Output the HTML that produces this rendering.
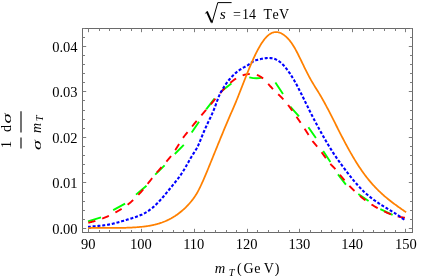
<!DOCTYPE html>
<html><head><meta charset="utf-8"><style>
html,body{margin:0;padding:0;background:#fff;}
body{width:436px;height:276px;overflow:hidden;}
svg{display:block;font-family:"Liberation Serif",serif;will-change:transform;}
</style></head><body>
<svg width="436" height="276" viewBox="0 0 436 276">
<rect width="436" height="276" fill="#fff"/>
<g fill="none" stroke-linejoin="round" stroke-width="1.75">
<path id="green" d="M88,221.4 L101,217.4 M113.2,210.1 L125.1,203.6 M136,194.6 L146.5,185.7 M155.2,174.7 L164.6,165.3 M174.8,154 L183.8,144.8 M191.7,132.5 L199,121.7 M206.2,109.3 L214.5,98.6 M221.7,91.1 L231.4,83.6 M249.3,77.3 Q257.20,79.25 262.3,77.4 M275.4,82.5 L283,94.1 M290.3,106.6 L299,116.4 M308.4,127.2 L315.9,138 M323.2,151 L330.4,161.9 M338,174.4 L345.9,184.6 M358.3,194 L368.6,201 M380.3,209.1 L392.6,214.9" stroke="#0f0" stroke-width="1.9"/>
<path id="red" d="M88.10,222.74 L88.74,222.61 L89.37,222.47 L90.01,222.33 L90.65,222.18 L91.28,222.02 L91.92,221.87 L92.56,221.70 L93.19,221.53 L93.83,221.36 L94.46,221.18 L95.10,221.00 L95.74,220.81 L96.37,220.61 L97.01,220.42 L97.65,220.21 L98.28,220.00 L98.92,219.79 L99.56,219.57 L100.19,219.34 L100.83,219.11 L101.47,218.88 L102.10,218.64 L102.74,218.39 L103.38,218.15 L104.01,217.89 L104.65,217.63 L105.28,217.37 L105.92,217.10 L106.56,216.82 L107.19,216.54 L107.83,216.26 L108.47,215.97 L109.10,215.67 L109.74,215.37 L110.38,215.07 L111.01,214.76 L111.65,214.45 L112.29,214.13 L112.92,213.80 L113.56,213.48 L114.20,213.14 L114.83,212.80 L115.47,212.46 L116.10,212.11 L116.74,211.76 L117.38,211.40 L118.01,211.03 L118.65,210.66 L119.29,210.29 L119.92,209.90 L120.56,209.51 L121.20,209.12 L121.83,208.71 L122.47,208.30 L123.11,207.88 L123.74,207.45 L124.38,207.02 L125.02,206.58 L125.65,206.12 L126.29,205.66 L126.92,205.19 L127.56,204.71 L128.20,204.22 L128.83,203.72 L129.47,203.21 L130.11,202.69 L130.74,202.16 L131.38,201.62 L132.02,201.06 L132.65,200.50 L133.29,199.92 L133.93,199.33 L134.56,198.73 L135.20,198.12 L135.84,197.50 L136.47,196.86 L137.11,196.20 L137.74,195.54 L138.38,194.86 L139.02,194.17 L139.65,193.46 L140.29,192.75 L140.93,192.02 L141.56,191.28 L142.20,190.53 L142.84,189.77 L143.47,189.01 L144.11,188.24 L144.75,187.46 L145.38,186.67 L146.02,185.88 L146.66,185.09 L147.29,184.29 L147.93,183.49 L148.56,182.69 L149.20,181.89 L149.84,181.09 L150.47,180.29 L151.11,179.49 L151.75,178.69 L152.38,177.90 L153.02,177.11 L153.66,176.32 L154.29,175.54 L154.93,174.77 L155.57,174.00 L156.20,173.24 L156.84,172.49 L157.48,171.75 L158.11,171.02 L158.75,170.29 L159.38,169.57 L160.02,168.85 L160.66,168.14 L161.29,167.43 L161.93,166.72 L162.57,166.01 L163.20,165.30 L163.84,164.58 L164.48,163.87 L165.11,163.15 L165.75,162.42 L166.39,161.68 L167.02,160.94 L167.66,160.19 L168.30,159.42 L168.93,158.65 L169.57,157.86 L170.21,157.06 L170.84,156.24 L171.48,155.40 L172.11,154.55 L172.75,153.68 L173.39,152.79 L174.02,151.88 L174.66,150.95 L175.30,149.99 L175.93,149.01 L176.57,148.01 L177.21,146.99 L177.84,145.97 L178.48,144.93 L179.12,143.90 L179.75,142.87 L180.39,141.86 L181.03,140.86 L181.66,139.88 L182.30,138.93 L182.93,138.01 L183.57,137.13 L184.21,136.28 L184.84,135.46 L185.48,134.66 L186.12,133.87 L186.75,133.10 L187.39,132.33 L188.03,131.55 L188.66,130.77 L189.30,129.99 L189.94,129.19 L190.57,128.40 L191.21,127.61 L191.85,126.82 L192.48,126.03 L193.12,125.25 L193.75,124.47 L194.39,123.70 L195.03,122.93 L195.66,122.16 L196.30,121.40 L196.94,120.64 L197.57,119.88 L198.21,119.12 L198.85,118.36 L199.48,117.61 L200.12,116.86 L200.76,116.11 L201.39,115.36 L202.03,114.61 L202.67,113.87 L203.30,113.12 L203.94,112.37 L204.57,111.63 L205.21,110.88 L205.85,110.13 L206.48,109.38 L207.12,108.63 L207.76,107.88 L208.39,107.13 L209.03,106.38 L209.67,105.62 L210.30,104.86 L210.94,104.10 L211.58,103.34 L212.21,102.57 L212.85,101.81 L213.49,101.04 L214.12,100.28 L214.76,99.51 L215.39,98.75 L216.03,97.99 L216.67,97.23 L217.30,96.47 L217.94,95.72 L218.58,94.98 L219.21,94.23 L219.85,93.50 L220.49,92.77 L221.12,92.05 L221.76,91.33 L222.40,90.62 L223.03,89.93 L223.67,89.24 L224.31,88.56 L224.94,87.89 L225.58,87.23 L226.21,86.59 L226.85,85.96 L227.49,85.34 L228.12,84.73 L228.76,84.14 L229.40,83.56 L230.03,83.00 L230.67,82.46 L231.31,81.93 L231.94,81.42 L232.58,80.92 L233.22,80.45 L233.85,79.99 L234.49,79.54 L235.13,79.12 L235.76,78.71 L236.40,78.32 L237.03,77.95 L237.67,77.59 L238.31,77.25 L238.94,76.93 L239.58,76.62 L240.22,76.33 L240.85,76.06 L241.49,75.81 L242.13,75.57 L242.76,75.35 L243.40,75.14 L244.04,74.95 L244.67,74.78 L245.31,74.63 L245.95,74.49 L246.58,74.37 L247.22,74.27 L247.85,74.18 L248.49,74.11 L249.13,74.06 L249.76,74.02 L250.40,74.00 L251.04,74.00 L251.67,74.02 L252.31,74.05 L252.95,74.11 L253.58,74.18 L254.22,74.28 L254.86,74.41 L255.49,74.56 L256.13,74.73 L256.77,74.93 L257.40,75.16 L258.04,75.41 L258.67,75.70 L259.31,76.02 L259.95,76.36 L260.58,76.75 L261.22,77.16 L261.86,77.61 L262.49,78.10 L263.13,78.62 L263.77,79.18 L264.40,79.78 L265.04,80.40 L265.68,81.05 L266.31,81.72 L266.95,82.42 L267.59,83.12 L268.22,83.84 L268.86,84.56 L269.49,85.29 L270.13,86.02 L270.77,86.75 L271.40,87.47 L272.04,88.18 L272.68,88.87 L273.31,89.55 L273.95,90.20 L274.59,90.84 L275.22,91.46 L275.86,92.07 L276.50,92.68 L277.13,93.27 L277.77,93.86 L278.41,94.45 L279.04,95.04 L279.68,95.64 L280.31,96.24 L280.95,96.86 L281.59,97.48 L282.22,98.13 L282.86,98.79 L283.50,99.47 L284.13,100.18 L284.77,100.91 L285.41,101.66 L286.04,102.43 L286.68,103.22 L287.32,104.03 L287.95,104.85 L288.59,105.69 L289.23,106.54 L289.86,107.40 L290.50,108.28 L291.13,109.16 L291.77,110.04 L292.41,110.93 L293.04,111.83 L293.68,112.72 L294.32,113.62 L294.95,114.53 L295.59,115.44 L296.23,116.35 L296.86,117.26 L297.50,118.18 L298.14,119.11 L298.77,120.03 L299.41,120.97 L300.05,121.90 L300.68,122.85 L301.32,123.79 L301.95,124.74 L302.59,125.70 L303.23,126.66 L303.86,127.63 L304.50,128.61 L305.14,129.58 L305.77,130.57 L306.41,131.56 L307.05,132.56 L307.68,133.56 L308.32,134.57 L308.96,135.59 L309.59,136.60 L310.23,137.61 L310.87,138.60 L311.50,139.55 L312.14,140.47 L312.77,141.34 L313.41,142.16 L314.05,142.95 L314.68,143.71 L315.32,144.45 L315.96,145.18 L316.59,145.91 L317.23,146.65 L317.87,147.41 L318.50,148.19 L319.14,148.99 L319.78,149.80 L320.41,150.63 L321.05,151.48 L321.69,152.34 L322.32,153.21 L322.96,154.09 L323.59,154.98 L324.23,155.87 L324.87,156.76 L325.50,157.65 L326.14,158.52 L326.78,159.39 L327.41,160.24 L328.05,161.07 L328.69,161.88 L329.32,162.66 L329.96,163.41 L330.60,164.13 L331.23,164.81 L331.87,165.47 L332.51,166.12 L333.14,166.76 L333.78,167.41 L334.42,168.06 L335.05,168.74 L335.69,169.45 L336.32,170.20 L336.96,170.98 L337.60,171.78 L338.23,172.60 L338.87,173.42 L339.51,174.24 L340.14,175.05 L340.78,175.85 L341.42,176.65 L342.05,177.43 L342.69,178.21 L343.33,178.97 L343.96,179.73 L344.60,180.48 L345.24,181.22 L345.87,181.95 L346.51,182.67 L347.14,183.38 L347.78,184.09 L348.42,184.78 L349.05,185.47 L349.69,186.15 L350.33,186.82 L350.96,187.48 L351.60,188.13 L352.24,188.77 L352.87,189.41 L353.51,190.04 L354.15,190.65 L354.78,191.26 L355.42,191.87 L356.06,192.46 L356.69,193.04 L357.33,193.62 L357.96,194.19 L358.60,194.75 L359.24,195.30 L359.87,195.85 L360.51,196.38 L361.15,196.91 L361.78,197.43 L362.42,197.95 L363.06,198.45 L363.69,198.95 L364.33,199.44 L364.97,199.92 L365.60,200.40 L366.24,200.86 L366.88,201.33 L367.51,201.78 L368.15,202.23 L368.78,202.67 L369.42,203.10 L370.06,203.53 L370.69,203.95 L371.33,204.36 L371.97,204.77 L372.60,205.17 L373.24,205.56 L373.88,205.95 L374.51,206.33 L375.15,206.71 L375.79,207.08 L376.42,207.44 L377.06,207.80 L377.70,208.15 L378.33,208.50 L378.97,208.84 L379.60,209.18 L380.24,209.51 L380.88,209.83 L381.51,210.15 L382.15,210.47 L382.79,210.78 L383.42,211.08 L384.06,211.38 L384.70,211.68 L385.33,211.97 L385.97,212.25 L386.61,212.53 L387.24,212.81 L387.88,213.07 L388.52,213.34 L389.15,213.59 L389.79,213.85 L390.42,214.09 L391.06,214.33 L391.70,214.56 L392.33,214.79 L392.97,215.01 L393.61,215.22 L394.24,215.43 L394.88,215.63 L395.52,215.82 L396.15,216.00 L396.79,216.18 L397.43,216.35 L398.06,216.51 L398.70,216.66 L399.34,216.80 L399.97,216.94 L400.61,217.07 L401.24,217.19 L401.88,217.30 L402.52,217.40 L403.15,217.49 L403.79,217.58 L404.43,217.65 L405.06,217.72 L405.70,217.77" stroke="#f00" stroke-width="1.9" stroke-dasharray="7.26 7.26" stroke-dashoffset="-0.2"/>
<path id="blue" d="M88.10,227.00 L88.74,226.91 L89.37,226.83 L90.01,226.74 L90.64,226.67 L91.28,226.59 L91.91,226.52 L92.55,226.45 L93.18,226.38 L93.82,226.32 L94.45,226.25 L95.09,226.19 L95.73,226.13 L96.36,226.07 L97.00,226.01 L97.63,225.95 L98.27,225.89 L98.90,225.83 L99.54,225.77 L100.17,225.70 L100.81,225.64 L101.44,225.57 L102.08,225.50 L102.72,225.43 L103.35,225.36 L103.99,225.28 L104.62,225.20 L105.26,225.11 L105.89,225.03 L106.53,224.93 L107.16,224.83 L107.80,224.73 L108.44,224.62 L109.07,224.50 L109.71,224.38 L110.34,224.26 L110.98,224.12 L111.61,223.99 L112.25,223.85 L112.88,223.70 L113.52,223.55 L114.15,223.39 L114.79,223.23 L115.43,223.07 L116.06,222.90 L116.70,222.73 L117.33,222.56 L117.97,222.39 L118.60,222.21 L119.24,222.03 L119.87,221.84 L120.51,221.66 L121.14,221.47 L121.78,221.28 L122.42,221.10 L123.05,220.91 L123.69,220.72 L124.32,220.52 L124.96,220.33 L125.59,220.14 L126.23,219.95 L126.86,219.76 L127.50,219.57 L128.13,219.38 L128.77,219.19 L129.41,219.00 L130.04,218.81 L130.68,218.62 L131.31,218.43 L131.95,218.23 L132.58,218.04 L133.22,217.84 L133.85,217.63 L134.49,217.42 L135.12,217.21 L135.76,216.99 L136.40,216.77 L137.03,216.54 L137.67,216.31 L138.30,216.07 L138.94,215.82 L139.57,215.56 L140.21,215.29 L140.84,215.02 L141.48,214.73 L142.12,214.44 L142.75,214.13 L143.39,213.81 L144.02,213.49 L144.66,213.15 L145.29,212.79 L145.93,212.43 L146.56,212.05 L147.20,211.66 L147.83,211.25 L148.47,210.83 L149.11,210.39 L149.74,209.94 L150.38,209.47 L151.01,208.98 L151.65,208.48 L152.28,207.96 L152.92,207.42 L153.55,206.87 L154.19,206.30 L154.82,205.71 L155.46,205.11 L156.10,204.49 L156.73,203.86 L157.37,203.22 L158.00,202.57 L158.64,201.90 L159.27,201.22 L159.91,200.53 L160.54,199.83 L161.18,199.12 L161.81,198.40 L162.45,197.68 L163.09,196.94 L163.72,196.20 L164.36,195.45 L164.99,194.70 L165.63,193.94 L166.26,193.17 L166.90,192.40 L167.53,191.63 L168.17,190.85 L168.80,190.07 L169.44,189.29 L170.08,188.51 L170.71,187.73 L171.35,186.94 L171.98,186.16 L172.62,185.37 L173.25,184.59 L173.89,183.81 L174.52,183.03 L175.16,182.24 L175.79,181.45 L176.43,180.65 L177.07,179.84 L177.70,179.02 L178.34,178.19 L178.97,177.34 L179.61,176.47 L180.24,175.58 L180.88,174.67 L181.51,173.73 L182.15,172.77 L182.79,171.78 L183.42,170.76 L184.06,169.71 L184.69,168.64 L185.33,167.55 L185.96,166.44 L186.60,165.32 L187.23,164.19 L187.87,163.06 L188.50,161.93 L189.14,160.81 L189.78,159.69 L190.41,158.58 L191.05,157.49 L191.68,156.41 L192.32,155.36 L192.95,154.33 L193.59,153.34 L194.22,152.35 L194.86,151.36 L195.49,150.35 L196.13,149.30 L196.77,148.19 L197.40,147.01 L198.04,145.75 L198.67,144.38 L199.31,142.91 L199.94,141.38 L200.58,139.79 L201.21,138.19 L201.85,136.60 L202.48,135.03 L203.12,133.50 L203.76,132.00 L204.39,130.53 L205.03,129.08 L205.66,127.66 L206.30,126.26 L206.93,124.88 L207.57,123.51 L208.20,122.17 L208.84,120.83 L209.47,119.51 L210.11,118.18 L210.75,116.85 L211.38,115.49 L212.02,114.09 L212.65,112.65 L213.29,111.14 L213.92,109.56 L214.56,107.94 L215.19,106.26 L215.83,104.53 L216.47,102.78 L217.10,101.02 L217.74,99.30 L218.37,97.64 L219.01,96.08 L219.64,94.64 L220.28,93.30 L220.91,92.05 L221.55,90.88 L222.18,89.77 L222.82,88.71 L223.46,87.69 L224.09,86.70 L224.73,85.74 L225.36,84.80 L226.00,83.89 L226.63,83.00 L227.27,82.15 L227.90,81.31 L228.54,80.50 L229.17,79.72 L229.81,78.96 L230.45,78.22 L231.08,77.51 L231.72,76.82 L232.35,76.15 L232.99,75.51 L233.62,74.88 L234.26,74.28 L234.89,73.69 L235.53,73.13 L236.16,72.59 L236.80,72.06 L237.44,71.55 L238.07,71.06 L238.71,70.59 L239.34,70.14 L239.98,69.70 L240.61,69.28 L241.25,68.87 L241.88,68.48 L242.52,68.11 L243.15,67.75 L243.79,67.40 L244.43,67.06 L245.06,66.73 L245.70,66.40 L246.33,66.06 L246.97,65.70 L247.60,65.32 L248.24,64.92 L248.87,64.48 L249.51,64.02 L250.15,63.54 L250.78,63.07 L251.42,62.60 L252.05,62.15 L252.69,61.74 L253.32,61.36 L253.96,61.03 L254.59,60.75 L255.23,60.49 L255.86,60.27 L256.50,60.07 L257.14,59.89 L257.77,59.72 L258.41,59.57 L259.04,59.42 L259.68,59.27 L260.31,59.13 L260.95,58.99 L261.58,58.85 L262.22,58.72 L262.85,58.60 L263.49,58.48 L264.13,58.38 L264.76,58.29 L265.40,58.20 L266.03,58.13 L266.67,58.08 L267.30,58.04 L267.94,58.01 L268.57,58.00 L269.21,58.01 L269.84,58.04 L270.48,58.09 L271.12,58.16 L271.75,58.25 L272.39,58.37 L273.02,58.51 L273.66,58.67 L274.29,58.86 L274.93,59.08 L275.56,59.33 L276.20,59.61 L276.83,59.92 L277.47,60.26 L278.11,60.63 L278.74,61.04 L279.38,61.49 L280.01,61.97 L280.65,62.48 L281.28,63.03 L281.92,63.62 L282.55,64.24 L283.19,64.89 L283.83,65.58 L284.46,66.29 L285.10,67.03 L285.73,67.80 L286.37,68.60 L287.00,69.42 L287.64,70.27 L288.27,71.14 L288.91,72.04 L289.54,72.96 L290.18,73.91 L290.82,74.88 L291.45,75.87 L292.09,76.88 L292.72,77.92 L293.36,78.98 L293.99,80.06 L294.63,81.16 L295.26,82.29 L295.90,83.43 L296.53,84.59 L297.17,85.77 L297.81,86.97 L298.44,88.18 L299.08,89.41 L299.71,90.65 L300.35,91.90 L300.98,93.16 L301.62,94.43 L302.25,95.70 L302.89,96.99 L303.52,98.28 L304.16,99.57 L304.80,100.87 L305.43,102.17 L306.07,103.47 L306.70,104.77 L307.34,106.07 L307.97,107.37 L308.61,108.66 L309.24,109.95 L309.88,111.23 L310.51,112.50 L311.15,113.77 L311.79,115.02 L312.42,116.27 L313.06,117.51 L313.69,118.74 L314.33,119.96 L314.96,121.17 L315.60,122.37 L316.23,123.57 L316.87,124.76 L317.51,125.94 L318.14,127.12 L318.78,128.28 L319.41,129.44 L320.05,130.59 L320.68,131.74 L321.32,132.88 L321.95,134.01 L322.59,135.13 L323.22,136.25 L323.86,137.36 L324.50,138.47 L325.13,139.56 L325.77,140.66 L326.40,141.74 L327.04,142.82 L327.67,143.89 L328.31,144.95 L328.94,146.00 L329.58,147.04 L330.21,148.07 L330.85,149.10 L331.49,150.11 L332.12,151.11 L332.76,152.10 L333.39,153.08 L334.03,154.05 L334.66,155.01 L335.30,155.96 L335.93,156.89 L336.57,157.82 L337.20,158.74 L337.84,159.64 L338.48,160.54 L339.11,161.43 L339.75,162.32 L340.38,163.20 L341.02,164.07 L341.65,164.94 L342.29,165.80 L342.92,166.66 L343.56,167.51 L344.19,168.37 L344.83,169.22 L345.47,170.06 L346.10,170.90 L346.74,171.74 L347.37,172.57 L348.01,173.40 L348.64,174.22 L349.28,175.03 L349.91,175.84 L350.55,176.65 L351.18,177.44 L351.82,178.24 L352.46,179.02 L353.09,179.80 L353.73,180.57 L354.36,181.33 L355.00,182.08 L355.63,182.83 L356.27,183.56 L356.90,184.29 L357.54,185.01 L358.18,185.72 L358.81,186.42 L359.45,187.11 L360.08,187.79 L360.72,188.45 L361.35,189.11 L361.99,189.76 L362.62,190.39 L363.26,191.02 L363.89,191.63 L364.53,192.23 L365.17,192.82 L365.80,193.40 L366.44,193.97 L367.07,194.52 L367.71,195.07 L368.34,195.61 L368.98,196.13 L369.61,196.65 L370.25,197.16 L370.88,197.66 L371.52,198.15 L372.16,198.64 L372.79,199.12 L373.43,199.59 L374.06,200.05 L374.70,200.50 L375.33,200.95 L375.97,201.39 L376.60,201.83 L377.24,202.26 L377.87,202.69 L378.51,203.11 L379.15,203.53 L379.78,203.94 L380.42,204.35 L381.05,204.75 L381.69,205.15 L382.32,205.55 L382.96,205.94 L383.59,206.33 L384.23,206.72 L384.86,207.11 L385.50,207.50 L386.14,207.88 L386.77,208.26 L387.41,208.65 L388.04,209.03 L388.68,209.41 L389.31,209.79 L389.95,210.17 L390.58,210.56 L391.22,210.94 L391.86,211.33 L392.49,211.72 L393.13,212.11 L393.76,212.50 L394.40,212.90 L395.03,213.30 L395.67,213.70 L396.30,214.11 L396.94,214.53 L397.57,214.95 L398.21,215.37 L398.85,215.80 L399.48,216.24 L400.12,216.68 L400.75,217.13 L401.39,217.59 L402.02,218.06 L402.66,218.53 L403.29,219.01 L403.93,219.51 L404.56,220.01 L405.20,220.52" stroke="#00f" stroke-width="2.1" stroke-dasharray="3.0 1.84" stroke-dashoffset="0.3"/>
<path id="orange" d="M88.10,228.06 L88.74,228.05 L89.37,228.03 L90.01,228.02 L90.65,228.01 L91.29,227.99 L91.92,227.98 L92.56,227.97 L93.20,227.96 L93.84,227.96 L94.47,227.95 L95.11,227.94 L95.75,227.94 L96.38,227.93 L97.02,227.93 L97.66,227.93 L98.30,227.92 L98.93,227.92 L99.57,227.92 L100.21,227.92 L100.85,227.92 L101.48,227.92 L102.12,227.92 L102.76,227.92 L103.39,227.92 L104.03,227.92 L104.67,227.92 L105.31,227.92 L105.94,227.92 L106.58,227.92 L107.22,227.92 L107.86,227.92 L108.49,227.93 L109.13,227.93 L109.77,227.93 L110.40,227.93 L111.04,227.93 L111.68,227.93 L112.32,227.93 L112.95,227.93 L113.59,227.93 L114.23,227.92 L114.87,227.92 L115.50,227.92 L116.14,227.92 L116.78,227.91 L117.41,227.91 L118.05,227.90 L118.69,227.90 L119.33,227.89 L119.96,227.88 L120.60,227.87 L121.24,227.86 L121.88,227.85 L122.51,227.84 L123.15,227.83 L123.79,227.82 L124.42,227.80 L125.06,227.79 L125.70,227.77 L126.34,227.75 L126.97,227.73 L127.61,227.71 L128.25,227.69 L128.89,227.66 L129.52,227.64 L130.16,227.61 L130.80,227.58 L131.43,227.55 L132.07,227.52 L132.71,227.49 L133.35,227.45 L133.98,227.41 L134.62,227.38 L135.26,227.33 L135.90,227.29 L136.53,227.25 L137.17,227.20 L137.81,227.15 L138.44,227.10 L139.08,227.05 L139.72,226.99 L140.36,226.94 L140.99,226.88 L141.63,226.81 L142.27,226.75 L142.91,226.68 L143.54,226.61 L144.18,226.53 L144.82,226.45 L145.45,226.37 L146.09,226.28 L146.73,226.19 L147.37,226.10 L148.00,226.00 L148.64,225.90 L149.28,225.79 L149.92,225.68 L150.55,225.56 L151.19,225.44 L151.83,225.31 L152.46,225.18 L153.10,225.05 L153.74,224.90 L154.38,224.76 L155.01,224.60 L155.65,224.44 L156.29,224.28 L156.93,224.10 L157.56,223.92 L158.20,223.74 L158.84,223.55 L159.47,223.35 L160.11,223.14 L160.75,222.93 L161.39,222.71 L162.02,222.49 L162.66,222.25 L163.30,222.01 L163.94,221.76 L164.57,221.50 L165.21,221.24 L165.85,220.96 L166.48,220.68 L167.12,220.39 L167.76,220.09 L168.40,219.78 L169.03,219.46 L169.67,219.14 L170.31,218.80 L170.95,218.46 L171.58,218.10 L172.22,217.74 L172.86,217.37 L173.49,216.98 L174.13,216.59 L174.77,216.19 L175.41,215.77 L176.04,215.35 L176.68,214.91 L177.32,214.47 L177.96,214.01 L178.59,213.54 L179.23,213.06 L179.87,212.56 L180.50,212.06 L181.14,211.54 L181.78,211.01 L182.42,210.46 L183.05,209.90 L183.69,209.33 L184.33,208.74 L184.97,208.14 L185.60,207.52 L186.24,206.88 L186.88,206.23 L187.51,205.57 L188.15,204.88 L188.79,204.18 L189.43,203.47 L190.06,202.73 L190.70,201.98 L191.34,201.21 L191.98,200.42 L192.61,199.60 L193.25,198.76 L193.89,197.88 L194.52,196.97 L195.16,196.03 L195.80,195.04 L196.44,194.02 L197.07,192.95 L197.71,191.82 L198.35,190.65 L198.99,189.43 L199.62,188.16 L200.26,186.85 L200.90,185.50 L201.53,184.11 L202.17,182.70 L202.81,181.27 L203.45,179.81 L204.08,178.34 L204.72,176.85 L205.36,175.35 L206.00,173.84 L206.63,172.32 L207.27,170.79 L207.91,169.25 L208.54,167.71 L209.18,166.16 L209.82,164.60 L210.46,163.03 L211.09,161.47 L211.73,159.90 L212.37,158.32 L213.01,156.75 L213.64,155.17 L214.28,153.60 L214.92,152.03 L215.55,150.46 L216.19,148.89 L216.83,147.32 L217.47,145.75 L218.10,144.19 L218.74,142.62 L219.38,141.06 L220.02,139.50 L220.65,137.95 L221.29,136.39 L221.93,134.84 L222.56,133.30 L223.20,131.75 L223.84,130.21 L224.48,128.68 L225.11,127.15 L225.75,125.62 L226.39,124.10 L227.03,122.58 L227.66,121.07 L228.30,119.58 L228.94,118.09 L229.57,116.61 L230.21,115.14 L230.85,113.68 L231.49,112.23 L232.12,110.78 L232.76,109.32 L233.40,107.86 L234.04,106.38 L234.67,104.89 L235.31,103.38 L235.95,101.84 L236.58,100.28 L237.22,98.71 L237.86,97.13 L238.50,95.53 L239.13,93.92 L239.77,92.30 L240.41,90.68 L241.05,89.05 L241.68,87.42 L242.32,85.79 L242.96,84.16 L243.59,82.53 L244.23,80.90 L244.87,79.28 L245.51,77.66 L246.14,76.05 L246.78,74.45 L247.42,72.87 L248.06,71.29 L248.69,69.73 L249.33,68.19 L249.97,66.66 L250.61,65.16 L251.24,63.67 L251.88,62.21 L252.52,60.76 L253.15,59.35 L253.79,57.95 L254.43,56.59 L255.07,55.25 L255.70,53.94 L256.34,52.65 L256.98,51.40 L257.62,50.18 L258.25,48.99 L258.89,47.83 L259.53,46.71 L260.16,45.62 L260.80,44.57 L261.44,43.55 L262.08,42.57 L262.71,41.64 L263.35,40.74 L263.99,39.88 L264.63,39.06 L265.26,38.29 L265.90,37.56 L266.54,36.88 L267.17,36.24 L267.81,35.65 L268.45,35.10 L269.09,34.61 L269.72,34.16 L270.36,33.75 L271.00,33.39 L271.64,33.07 L272.27,32.80 L272.91,32.57 L273.55,32.39 L274.18,32.24 L274.82,32.14 L275.46,32.08 L276.10,32.07 L276.73,32.09 L277.37,32.15 L278.01,32.25 L278.65,32.39 L279.28,32.57 L279.92,32.79 L280.56,33.04 L281.19,33.33 L281.83,33.66 L282.47,34.02 L283.11,34.42 L283.74,34.85 L284.38,35.32 L285.02,35.82 L285.66,36.35 L286.29,36.92 L286.93,37.53 L287.57,38.16 L288.20,38.84 L288.84,39.55 L289.48,40.31 L290.12,41.10 L290.75,41.93 L291.39,42.80 L292.03,43.71 L292.67,44.67 L293.30,45.67 L293.94,46.71 L294.58,47.79 L295.21,48.92 L295.85,50.08 L296.49,51.27 L297.13,52.48 L297.76,53.73 L298.40,54.99 L299.04,56.27 L299.68,57.57 L300.31,58.87 L300.95,60.18 L301.59,61.50 L302.22,62.82 L302.86,64.14 L303.50,65.46 L304.14,66.77 L304.77,68.08 L305.41,69.38 L306.05,70.66 L306.69,71.94 L307.32,73.20 L307.96,74.44 L308.60,75.66 L309.23,76.86 L309.87,78.03 L310.51,79.18 L311.15,80.31 L311.78,81.41 L312.42,82.49 L313.06,83.55 L313.70,84.60 L314.33,85.64 L314.97,86.67 L315.61,87.70 L316.24,88.72 L316.88,89.74 L317.52,90.77 L318.16,91.80 L318.79,92.84 L319.43,93.89 L320.07,94.95 L320.71,96.03 L321.34,97.12 L321.98,98.23 L322.62,99.35 L323.25,100.48 L323.89,101.63 L324.53,102.79 L325.17,103.96 L325.80,105.14 L326.44,106.33 L327.08,107.54 L327.72,108.75 L328.35,109.96 L328.99,111.19 L329.63,112.42 L330.26,113.66 L330.90,114.91 L331.54,116.16 L332.18,117.41 L332.81,118.67 L333.45,119.93 L334.09,121.19 L334.73,122.45 L335.36,123.72 L336.00,124.98 L336.64,126.25 L337.27,127.51 L337.91,128.78 L338.55,130.04 L339.19,131.29 L339.82,132.55 L340.46,133.80 L341.10,135.04 L341.74,136.28 L342.37,137.52 L343.01,138.74 L343.65,139.96 L344.28,141.17 L344.92,142.38 L345.56,143.57 L346.20,144.76 L346.83,145.94 L347.47,147.11 L348.11,148.27 L348.75,149.42 L349.38,150.56 L350.02,151.69 L350.66,152.81 L351.29,153.92 L351.93,155.03 L352.57,156.12 L353.21,157.20 L353.84,158.27 L354.48,159.33 L355.12,160.38 L355.76,161.42 L356.39,162.45 L357.03,163.46 L357.67,164.46 L358.30,165.46 L358.94,166.44 L359.58,167.40 L360.22,168.36 L360.85,169.30 L361.49,170.23 L362.13,171.15 L362.77,172.05 L363.40,172.94 L364.04,173.82 L364.68,174.68 L365.31,175.53 L365.95,176.37 L366.59,177.20 L367.23,178.01 L367.86,178.81 L368.50,179.60 L369.14,180.38 L369.78,181.14 L370.41,181.90 L371.05,182.64 L371.69,183.37 L372.32,184.09 L372.96,184.81 L373.60,185.51 L374.24,186.20 L374.87,186.88 L375.51,187.55 L376.15,188.21 L376.79,188.86 L377.42,189.50 L378.06,190.14 L378.70,190.76 L379.33,191.38 L379.97,191.99 L380.61,192.59 L381.25,193.18 L381.88,193.76 L382.52,194.34 L383.16,194.91 L383.80,195.47 L384.43,196.03 L385.07,196.58 L385.71,197.12 L386.34,197.66 L386.98,198.19 L387.62,198.71 L388.26,199.23 L388.89,199.74 L389.53,200.25 L390.17,200.75 L390.81,201.25 L391.44,201.74 L392.08,202.23 L392.72,202.72 L393.35,203.20 L393.99,203.67 L394.63,204.15 L395.27,204.62 L395.90,205.08 L396.54,205.55 L397.18,206.01 L397.82,206.46 L398.45,206.92 L399.09,207.37 L399.73,207.82 L400.36,208.27 L401.00,208.72 L401.64,209.17 L402.28,209.61 L402.91,210.05 L403.55,210.50 L404.19,210.94 L404.83,211.38 L405.46,211.82 L406.10,212.27" stroke="#ff8000"/>
</g>
<g fill="none" stroke="#6a6a6a">
<rect x="82.5" y="28.5" width="330.0" height="204.0" stroke-width="1"/>
<path d="M88.50,232.5 v-3.7 M88.50,28.5 v3.7 M99.50,232.5 v-2.5 M99.50,28.5 v2.5 M109.50,232.5 v-2.5 M109.50,28.5 v2.5 M120.50,232.5 v-2.5 M120.50,28.5 v2.5 M131.50,232.5 v-2.5 M131.50,28.5 v2.5 M141.50,232.5 v-3.7 M141.50,28.5 v3.7 M152.50,232.5 v-2.5 M152.50,28.5 v2.5 M162.50,232.5 v-2.5 M162.50,28.5 v2.5 M173.50,232.5 v-2.5 M173.50,28.5 v2.5 M183.50,232.5 v-2.5 M183.50,28.5 v2.5 M194.50,232.5 v-3.7 M194.50,28.5 v3.7 M204.50,232.5 v-2.5 M204.50,28.5 v2.5 M215.50,232.5 v-2.5 M215.50,28.5 v2.5 M226.50,232.5 v-2.5 M226.50,28.5 v2.5 M236.50,232.5 v-2.5 M236.50,28.5 v2.5 M247.50,232.5 v-3.7 M247.50,28.5 v3.7 M257.50,232.5 v-2.5 M257.50,28.5 v2.5 M268.50,232.5 v-2.5 M268.50,28.5 v2.5 M278.50,232.5 v-2.5 M278.50,28.5 v2.5 M289.50,232.5 v-2.5 M289.50,28.5 v2.5 M299.50,232.5 v-3.7 M299.50,28.5 v3.7 M310.50,232.5 v-2.5 M310.50,28.5 v2.5 M321.50,232.5 v-2.5 M321.50,28.5 v2.5 M331.50,232.5 v-2.5 M331.50,28.5 v2.5 M342.50,232.5 v-2.5 M342.50,28.5 v2.5 M352.50,232.5 v-3.7 M352.50,28.5 v3.7 M363.50,232.5 v-2.5 M363.50,28.5 v2.5 M373.50,232.5 v-2.5 M373.50,28.5 v2.5 M384.50,232.5 v-2.5 M384.50,28.5 v2.5 M395.50,232.5 v-2.5 M395.50,28.5 v2.5 M405.50,232.5 v-3.7 M405.50,28.5 v3.7 M82.5,228.50 h3.7 M412.5,228.50 h-3.7 M82.5,219.50 h2.5 M412.5,219.50 h-2.5 M82.5,210.50 h2.5 M412.5,210.50 h-2.5 M82.5,201.50 h2.5 M412.5,201.50 h-2.5 M82.5,192.50 h2.5 M412.5,192.50 h-2.5 M82.5,182.50 h3.7 M412.5,182.50 h-3.7 M82.5,173.50 h2.5 M412.5,173.50 h-2.5 M82.5,164.50 h2.5 M412.5,164.50 h-2.5 M82.5,155.50 h2.5 M412.5,155.50 h-2.5 M82.5,146.50 h2.5 M412.5,146.50 h-2.5 M82.5,137.50 h3.7 M412.5,137.50 h-3.7 M82.5,128.50 h2.5 M412.5,128.50 h-2.5 M82.5,119.50 h2.5 M412.5,119.50 h-2.5 M82.5,110.50 h2.5 M412.5,110.50 h-2.5 M82.5,100.50 h2.5 M412.5,100.50 h-2.5 M82.5,91.50 h3.7 M412.5,91.50 h-3.7 M82.5,82.50 h2.5 M412.5,82.50 h-2.5 M82.5,73.50 h2.5 M412.5,73.50 h-2.5 M82.5,64.50 h2.5 M412.5,64.50 h-2.5 M82.5,55.50 h2.5 M412.5,55.50 h-2.5 M82.5,46.50 h3.7 M412.5,46.50 h-3.7 M82.5,37.50 h2.5 M412.5,37.50 h-2.5 M82.5,28.50 h2.5 M412.5,28.50 h-2.5" stroke-width="1" stroke="#7c7c7c"/>
</g>
<g font-size="14.5px" fill="#000">
<text x="88.18" y="249.45" text-anchor="middle">90</text><text x="140.98" y="249.45" text-anchor="middle">100</text><text x="193.78" y="249.45" text-anchor="middle">110</text><text x="246.58" y="249.45" text-anchor="middle">120</text><text x="299.38" y="249.45" text-anchor="middle">130</text><text x="352.18" y="249.45" text-anchor="middle">140</text><text x="405.98" y="249.45" text-anchor="middle">150</text>
<text x="77.6" y="233.75" text-anchor="end">0.00</text><text x="77.6" y="188.20" text-anchor="end">0.01</text><text x="77.6" y="142.65" text-anchor="end">0.02</text><text x="77.6" y="97.10" text-anchor="end">0.03</text><text x="77.6" y="51.55" text-anchor="end">0.04</text>
</g>
<!-- title -->
<g font-size="14px" fill="#000">
<g fill="none" stroke="#000" stroke-linecap="butt" stroke-linejoin="miter">
<path d="M204.9,13.6 L207.1,11.9" stroke-width="0.7"/>
<path d="M206.8,11.5 L211.7,22.4" stroke-width="1.9"/>
<path d="M211.9,23.2 L217.8,2.6 H231.6" stroke-width="1.0"/>
</g>
<text x="219.8" y="18.7" font-style="italic" font-size="15.5px">s</text>
<text x="233.1" y="18.7">=</text><text x="242.1" y="18.7">14</text>
<text x="263.5" y="18.7">T</text><text x="272.4" y="18.7">e</text><text x="279.1" y="18.7">V</text>
</g>
<!-- x label -->
<g font-size="14px" fill="#000">
<text x="214.7" y="273.3" font-style="italic" font-size="14.5px">m</text>
<text x="228.7" y="275.6" font-style="italic" font-size="10.4px">T</text>
<text x="236.9" y="273.4">(</text>
<text x="243.4" y="273.4">G</text><text x="254.3" y="273.4">e</text><text x="263.7" y="273.4">V</text>
<text x="274.8" y="273.4">)</text>
</g>
<!-- y label -->
<g font-size="14px" fill="#000">
<text transform="translate(11.3,148) rotate(-90)">1</text>
<text transform="translate(11.3,132) rotate(-90)">d</text>
<text transform="translate(11.3,123.5) rotate(-90) scale(1.65,1)" font-style="italic" font-size="12.5px">σ</text>
<path d="M21,137.6 V148.5 M21,111.2 V132.4" stroke="#000" stroke-width="1.1" fill="none"/>
<text transform="translate(40.6,150.1) rotate(-90) scale(1.6,1)" font-style="italic" font-size="12.5px">σ</text>
<text transform="translate(40.5,132.9) rotate(-90)" font-style="italic">m</text>
<text transform="translate(43,121.3) rotate(-90)" font-style="italic" font-size="10.4px">T</text>
</g>
</svg>
</body></html>
